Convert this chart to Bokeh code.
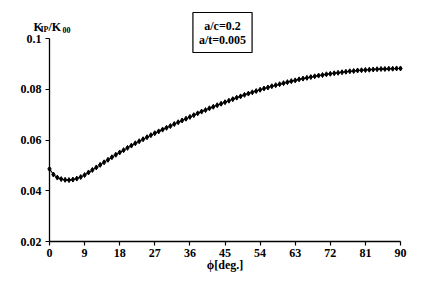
from bokeh.plotting import figure
from bokeh.models import Label, FixedTicker, Range1d
from bokeh.embed import file_html
from bokeh.resources import INLINE

phi = list(range(0, 91))
k_ratio = [
    0.0486, 0.0464, 0.0452, 0.0446, 0.0443, 0.0442, 0.0444, 0.0448, 0.0454, 0.0462,
    0.0472, 0.0482, 0.0492, 0.0502, 0.0512, 0.0522, 0.0532, 0.0542, 0.0551, 0.0560,
    0.0569, 0.0578, 0.0587, 0.0595, 0.0603, 0.0611, 0.0619, 0.0627, 0.0634, 0.0641,
    0.0648, 0.0655, 0.0663, 0.0670, 0.0677, 0.0684, 0.0691, 0.0698, 0.0705, 0.0712,
    0.0718, 0.0725, 0.0731, 0.0737, 0.0743, 0.0749, 0.0755, 0.0761, 0.0767, 0.0772,
    0.0778, 0.0783, 0.0788, 0.0793, 0.0798, 0.0803, 0.0807, 0.0812, 0.0816, 0.0820,
    0.0824, 0.0828, 0.0832, 0.0835, 0.0839, 0.0842, 0.0845, 0.0848, 0.0851, 0.0854,
    0.0856, 0.0859, 0.0861, 0.0863, 0.0865, 0.0867, 0.0869, 0.0871, 0.0872, 0.0874,
    0.0875, 0.0876, 0.0877, 0.0878, 0.0879, 0.0880, 0.0880, 0.0881, 0.0881, 0.0882,
    0.0882,
]
x_ticks = [0, 9, 18, 27, 36, 45, 54, 63, 72, 81, 90]
y_ticks = [0.02, 0.04, 0.06, 0.08, 0.1]
y_tick_labels = ["0.02", "0.04", "0.06", "0.08", "0.1"]
x_label = "ϕ[deg.]"
y_title_parts = ["K", "IP", "/K", "00"]
box_text = "a/c=0.2\na/t=0.005"

FONT = "Liberation Serif"

# the frame covers the whole figure (axes placed at fixed locations) so no text is clipped
p = figure(width=413, height=273, output_backend="svg", toolbar_location=None,
           x_range=Range1d(-12.564, 93.333), y_range=Range1d(0.007389, 0.11498),
           min_border_left=0, min_border_right=0, min_border_top=0, min_border_bottom=0)
p.outline_line_color = None
p.xgrid.visible = False
p.ygrid.visible = False

p.line(phi, k_ratio, line_color="black", line_width=1.1)
p.scatter(phi, k_ratio, marker="diamond", size=5, fill_color="black", line_color="black")

for ax in (p.xaxis[0], p.yaxis[0]):
    ax.axis_line_color = "black"
    ax.axis_line_width = 1.3
    ax.major_tick_line_color = "black"
    ax.major_tick_line_width = 1.2
    ax.major_tick_in = 0
    ax.major_tick_out = 4
    ax.minor_tick_line_color = None
    ax.major_label_text_font = FONT
    ax.major_label_text_font_style = "bold"
    ax.major_label_text_font_size = "12px"
    ax.major_label_text_color = "black"

p.xaxis.ticker = FixedTicker(ticks=x_ticks)
p.xaxis.bounds = (0, 90)
p.xaxis.fixed_location = 0.02
p.yaxis.ticker = FixedTicker(ticks=y_ticks)
p.yaxis.bounds = (0.02, 0.1)
p.yaxis.fixed_location = 0
p.yaxis.major_label_overrides = {t: s for t, s in zip(y_ticks, y_tick_labels)}
p.xaxis.major_label_standoff = 3
p.yaxis.major_label_standoff = 4

# x-axis title, centred under the axis span
p.add_layout(Label(x=45, y=9, y_units="screen", text=x_label,
                   text_font=FONT, text_font_style="bold", text_font_size="12px",
                   text_align="center", text_baseline="alphabetic", text_color="black"))

# y-axis title K_IP/K_00 at the top-left (screen units relative to the frame)
offsets = [(33, 247, "12px"), (40, 244, "8px"), (48, 247, "12px"), (62, 244, "8px")]
for txt, (sx, sy, fs) in zip(y_title_parts, offsets):
    p.add_layout(Label(x=sx, y=sy, x_units="screen", y_units="screen", text=txt,
                       text_font=FONT, text_font_style="bold", text_font_size=fs,
                       text_baseline="alphabetic", text_color="black"))

p.add_layout(Label(x=222, y=241, x_units="screen", y_units="screen", text=box_text,
                   text_font=FONT, text_font_style="bold", text_font_size="12px",
                   text_align="center", text_baseline="middle", text_color="black",
                   text_line_height=1.0,
                   border_line_color="black", border_line_width=1.2,
                   background_fill_color="white", padding=6))

open("out.html", "w").write(file_html(p, INLINE))
